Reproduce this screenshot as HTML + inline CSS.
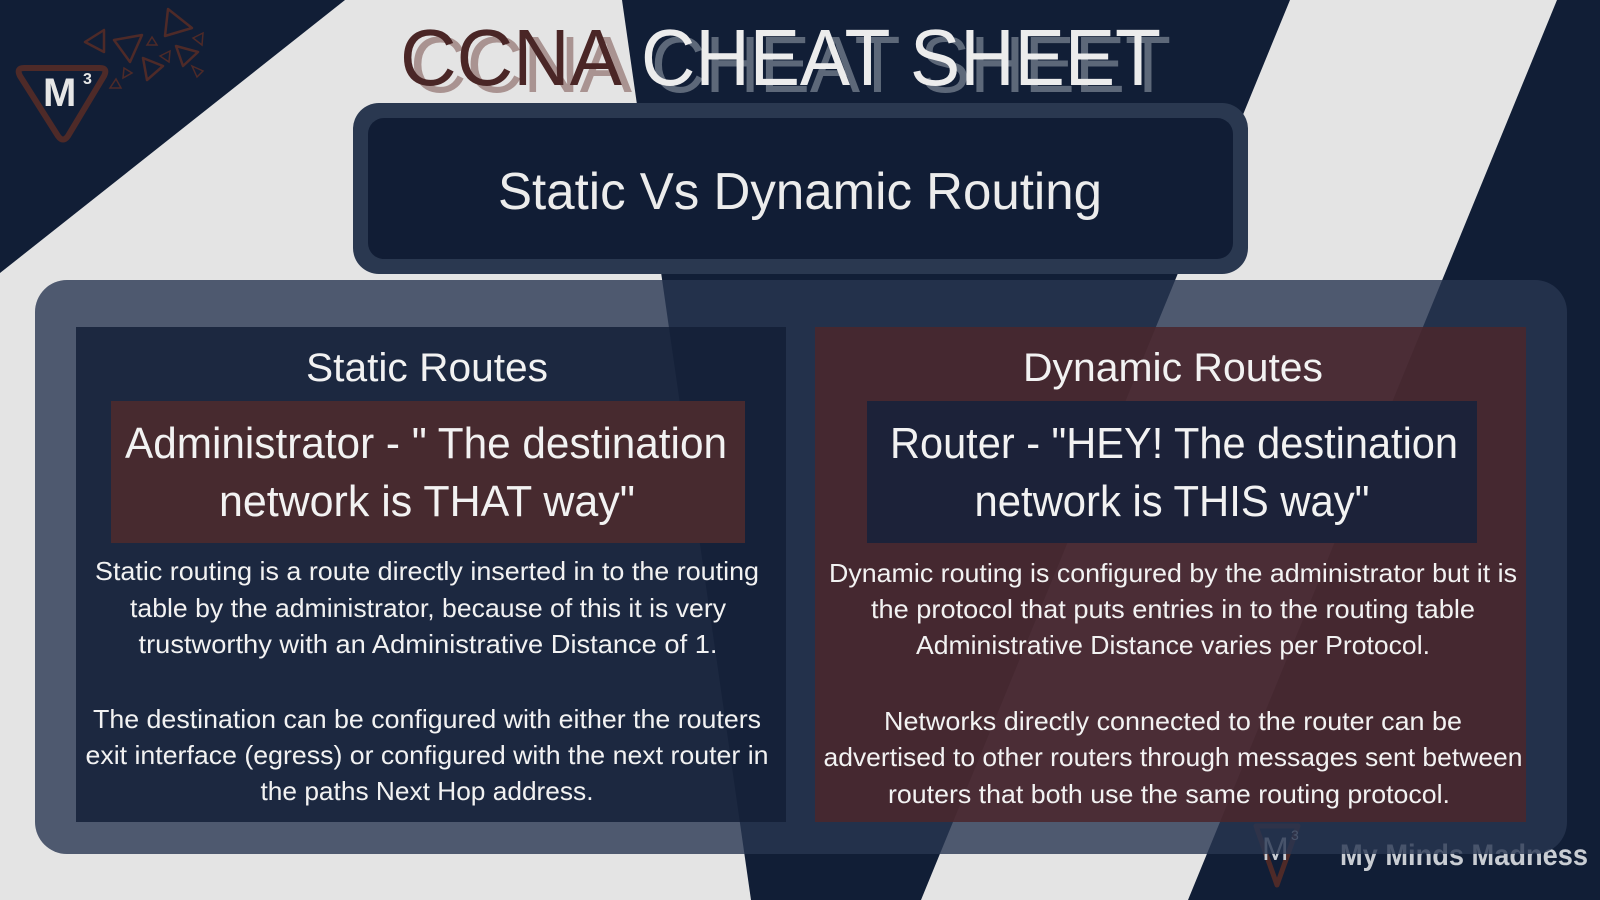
<!DOCTYPE html>
<html><head><meta charset="utf-8"><style>
html,body{margin:0;padding:0;width:1600px;height:900px;overflow:hidden;background:#e4e4e4}
svg{display:block}
text{font-family:"Liberation Sans",sans-serif}
</style></head><body>
<svg width="1600" height="900" viewBox="0 0 1600 900" xmlns="http://www.w3.org/2000/svg">
<rect width="1600" height="900" fill="#e4e4e4"/>
<polygon points="0,0 345,0 0,273" fill="#111e36"/>
<polygon points="622,0 1290,0 921,900 751,900" fill="#111e36"/>
<polygon points="1557,0 1600,0 1600,900 1188,900" fill="#111e36"/>

<!-- top-left logo -->
<g fill="none" stroke="#4e2a28">
<path d="M24,68 L100,68 Q108,68 104,76 L68,136 Q63,143 58,136 L20,76 Q16,68 24,68 Z" stroke-width="6" stroke-linejoin="round"/>
<path d="M85,42 L104,30 L104,52 Z" stroke-width="2.5" stroke-linejoin="round"/>
<path d="M114,40 L142,35 L130,62 Z" stroke-width="2.5" stroke-linejoin="round"/>
<path d="M168,9 L192,28 L165,36 Z" stroke-width="2.5" stroke-linejoin="round"/>
<path d="M147,45 L157,45 L152,37 Z" stroke-width="1.5"/>
<path d="M143,58 L163,66 L147,80 Z" stroke-width="2.5" stroke-linejoin="round"/>
<path d="M176,46 L198,52 L183,66 Z" stroke-width="2.5" stroke-linejoin="round"/>
<path d="M160,56 L170,51 L169,62 Z" stroke-width="1.5"/>
<path d="M124,68 L132,73 L123,78 Z" stroke-width="1.5"/>
<path d="M110,88 L121,88 L116,79 Z" stroke-width="1.5"/>
<path d="M192,66 L203,71 L197,77 Z" stroke-width="1.5"/>
<path d="M193,38 L203,33 L202,45 Z" stroke-width="1.5"/>
</g>
<text x="43" y="106" font-size="40" font-weight="bold" fill="#e6e6e6">M</text>
<text x="83" y="84" font-size="16" font-weight="bold" fill="#e6e6e6">3</text>

<!-- title -->
<g font-size="80">
<text x="410" y="92" fill="#a99391" textLength="222" lengthAdjust="spacingAndGlyphs">CCNA</text>
<text x="400" y="85" fill="#4a2626" textLength="222" lengthAdjust="spacingAndGlyphs">CCNA</text>
<text x="651" y="92" fill="#5d6879" textLength="520" lengthAdjust="spacingAndGlyphs">CHEAT SHEET</text>
<text x="641" y="85" fill="#ececec" textLength="520" lengthAdjust="spacingAndGlyphs">CHEAT SHEET</text>
</g>

<!-- header box -->
<rect x="353" y="103" width="895" height="171" rx="26" fill="#2a3850"/>
<rect x="368" y="118" width="865" height="141" rx="16" fill="#111d35"/>
<text x="800" y="209" font-size="52" fill="#ececec" text-anchor="middle" textLength="604" lengthAdjust="spacingAndGlyphs">Static Vs Dynamic Routing</text>

<!-- bottom-right logo (behind panel) -->
<path d="M1256,826 L1298,826 L1277,885 Z" fill="none" stroke="#4e2a28" stroke-width="5" stroke-linejoin="round"/>
<text x="1262" y="860" font-size="32" fill="#c9cdd3">M</text>
<text x="1291" y="840" font-size="14" fill="#c9cdd3">3</text>
<text x="1340" y="865" font-size="30" font-weight="bold" fill="#c9cdd3" textLength="248" lengthAdjust="spacingAndGlyphs">My Minds Madness</text>

<!-- main panel -->
<rect x="35" y="280" width="1532" height="574" rx="32" fill="rgba(40,54,81,0.8)"/>

<!-- left card -->
<rect x="76" y="327" width="710" height="495" fill="rgba(18,30,54,0.83)"/>
<rect x="111" y="401" width="634" height="142" fill="#472a2f"/>
<!-- right card -->
<rect x="815" y="327" width="711" height="495" fill="rgba(74,38,44,0.86)"/>
<rect x="867" y="401" width="610" height="142" fill="#1c2239"/>

<g fill="#f2f2f2" text-anchor="middle">
<text x="427" y="381" font-size="40" textLength="242" lengthAdjust="spacingAndGlyphs">Static Routes</text>
<text x="1173" y="381" font-size="40" textLength="300" lengthAdjust="spacingAndGlyphs">Dynamic Routes</text>

<text x="426" y="458" font-size="44" textLength="602" lengthAdjust="spacingAndGlyphs">Administrator - " The destination</text>
<text x="427" y="516" font-size="44" textLength="416" lengthAdjust="spacingAndGlyphs">network is THAT way"</text>
<text x="1174" y="458" font-size="44" textLength="568" lengthAdjust="spacingAndGlyphs">Router - "HEY! The destination</text>
<text x="1172" y="516" font-size="44" textLength="395" lengthAdjust="spacingAndGlyphs">network is THIS way"</text>

<g font-size="26">
<text x="427" y="580" textLength="664" lengthAdjust="spacingAndGlyphs">Static routing is a route directly inserted in to the routing</text>
<text x="428" y="617" textLength="596" lengthAdjust="spacingAndGlyphs">table by the administrator, because of this it is very</text>
<text x="428" y="653" textLength="579" lengthAdjust="spacingAndGlyphs">trustworthy with an Administrative Distance of 1.</text>
<text x="427" y="728" textLength="668" lengthAdjust="spacingAndGlyphs">The destination can be configured with either the routers</text>
<text x="427" y="764" textLength="683" lengthAdjust="spacingAndGlyphs">exit interface (egress) or configured with the next router in</text>
<text x="427" y="800" textLength="333" lengthAdjust="spacingAndGlyphs">the paths Next Hop address.</text>

<text x="1173" y="582" textLength="688" lengthAdjust="spacingAndGlyphs">Dynamic routing is configured by the administrator but it is</text>
<text x="1173" y="618" textLength="604" lengthAdjust="spacingAndGlyphs">the protocol that puts entries in to the routing table</text>
<text x="1173" y="654" textLength="514" lengthAdjust="spacingAndGlyphs">Administrative Distance varies per Protocol.</text>
<text x="1173" y="730" textLength="578" lengthAdjust="spacingAndGlyphs">Networks directly connected to the router can be</text>
<text x="1173" y="766" textLength="699" lengthAdjust="spacingAndGlyphs">advertised to other routers through messages sent between</text>
<text x="1169" y="803" textLength="562" lengthAdjust="spacingAndGlyphs">routers that both use the same routing protocol.</text>
</g>
</g>
</svg>
</body></html>
